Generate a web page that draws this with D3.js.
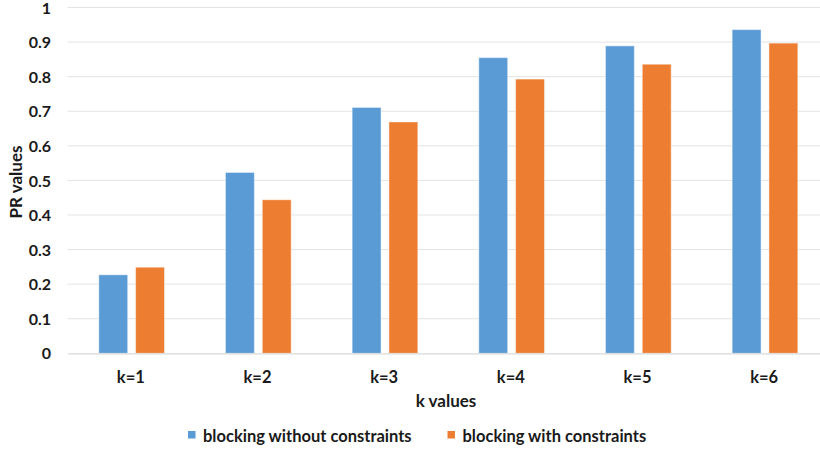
<!DOCTYPE html>
<html>
<head>
<meta charset="utf-8">
<script src="https://cdn.jsdelivr.net/npm/d3@7"></script>
<style>
  html, body { margin: 0; padding: 0; background: #fff; }
  svg { display: block; }
  text { font-family: Lato, "Open Sans", sans-serif; font-weight: bold; fill: #1a1a1a; }
</style>
</head>
<body>
<svg id="chart" width="820" height="451"></svg>
<script>
// PR values per k, for blocking with and without constraints
const categories = ["k=1", "k=2", "k=3", "k=4", "k=5", "k=6"];
const seriesNames = ["blocking without constraints", "blocking with constraints"];
const withoutConstraints = [0.227, 0.523, 0.711, 0.855, 0.889, 0.936];
const withConstraints = [0.249, 0.444, 0.669, 0.793, 0.836, 0.897];
const yTicks = [0, 0.1, 0.2, 0.3, 0.4, 0.5, 0.6, 0.7, 0.8, 0.9, 1];
const colors = ["#5B9BD5", "#ED7D31"];

const svg = d3.select("#chart");
const plotLeft = 67.5, plotRight = 827.5, plotTop = 7.5, plotBottom = 353.3;
const fontSize = 16.5;

const x = d3.scaleBand().domain(categories).range([plotLeft, plotRight]);
const x1 = d3.scaleBand().domain(seriesNames).range([31.3, 97]).paddingInner(0.215);
const y = d3.scaleLinear().domain([0, 1]).range([plotBottom, plotTop]);

// gridlines
svg.append("g")
  .selectAll("line")
  .data(yTicks.slice(1))
  .join("line")
  .attr("x1", plotLeft).attr("x2", plotRight)
  .attr("y1", d => y(d)).attr("y2", d => y(d))
  .attr("stroke", "#e3e3e3").attr("stroke-width", 1);

// y axis labels
const yAxis = d3.axisLeft(y).tickValues(yTicks).tickSize(0).tickPadding(0)
  .tickFormat(d => d === 0 || d === 1 ? String(d) : d3.format(".1f")(d));
svg.append("g")
  .attr("transform", `translate(51,0.5)`)
  .call(yAxis)
  .call(g => g.select(".domain").remove())
  .call(g => g.selectAll("text").attr("font-size", 16).attr("font-family", "Lato").attr("font-weight", "bold").attr("fill", "#1a1a1a"));

// bars
const rows = categories.map((c, i) => ({ cat: c, vals: [withoutConstraints[i], withConstraints[i]] }));
const groups = svg.append("g").selectAll("g")
  .data(rows).join("g")
  .attr("transform", d => `translate(${x(d.cat)},0)`);
groups.selectAll("rect")
  .data(d => d.vals.map((v, j) => ({ name: seriesNames[j], v, j })))
  .join("rect")
  .attr("x", d => x1(d.name))
  .attr("width", x1.bandwidth())
  .attr("y", d => y(d.v))
  .attr("height", d => y(0) - y(d.v))
  .attr("fill", d => colors[d.j])
  .attr("stroke", "#fff").attr("stroke-opacity", 0.45).attr("stroke-width", 1);

// x axis
const xAxis = d3.axisBottom(x).tickSize(0).tickPadding(0);
svg.append("g")
  .attr("transform", `translate(0,${plotBottom})`)
  .call(xAxis)
  .call(g => g.select(".domain").attr("stroke", "#d9d9d9").attr("stroke-width", 1.2))
  .call(g => g.selectAll("text").attr("dy", null).attr("y", 30).attr("font-size", fontSize)
    .attr("font-family", "Lato").attr("font-weight", "bold").attr("fill", "#1a1a1a"));

// axis titles
svg.append("text")
  .attr("x", 446).attr("y", 407)
  .attr("text-anchor", "middle").attr("font-size", 17)
  .text("k values");
svg.append("text")
  .attr("transform", `translate(22,182) rotate(-90)`)
  .attr("text-anchor", "middle").attr("font-size", 17)
  .text("PR values");

// legend
const legendX = [188, 447.5];
const legend = svg.append("g").selectAll("g")
  .data(seriesNames).join("g")
  .attr("transform", (d, i) => `translate(${legendX[i]},431)`);
legend.append("rect").attr("width", 7.5).attr("height", 7.5).attr("fill", (d, i) => colors[i]);
legend.append("text").attr("x", 15).attr("y", 10.5).attr("font-size", fontSize).text(d => d);
</script>
</body>
</html>
